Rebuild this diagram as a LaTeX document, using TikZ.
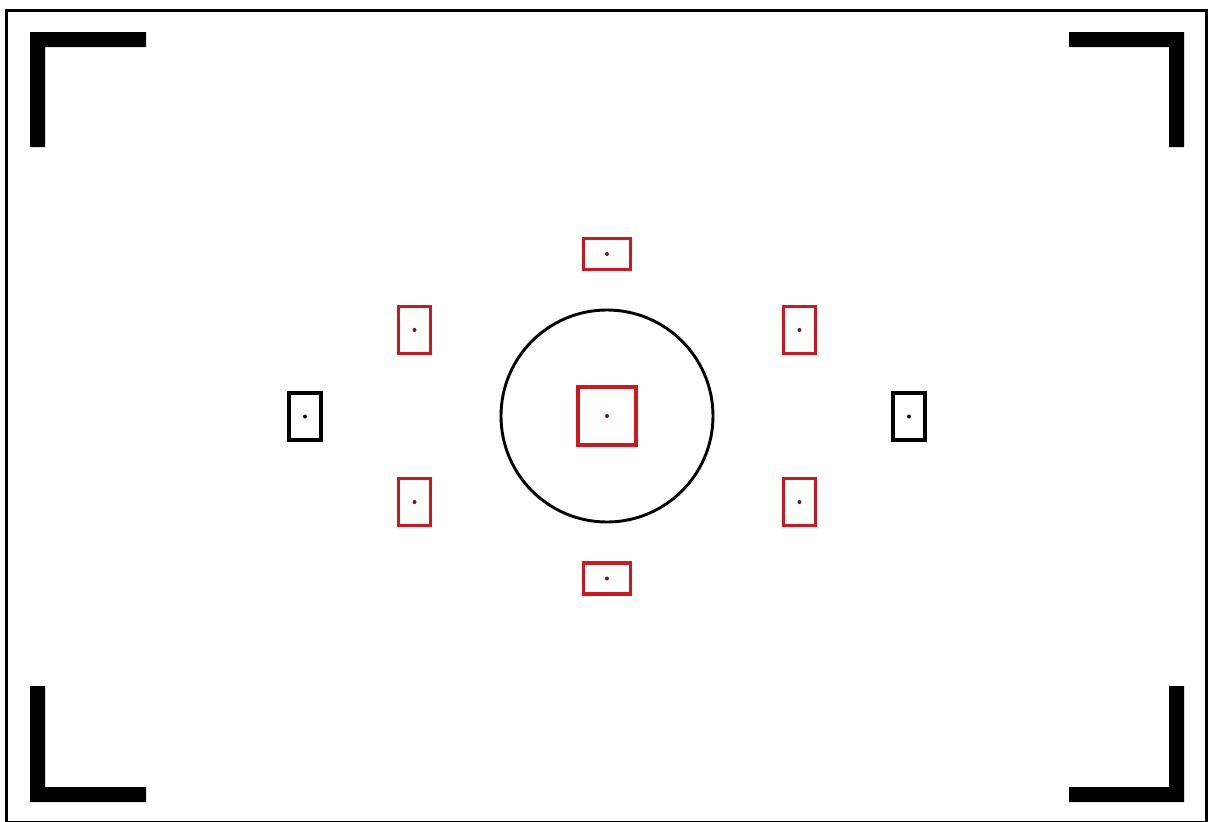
\documentclass[tikz,border=0pt]{standalone}
\definecolor{afred}{RGB}{210,22,30}
\definecolor{dotred}{RGB}{120,20,25}
\tikzset{
  afbox/.style={draw=afred, line width=3.6pt, inner sep=0pt, fill=none},
  afboxk/.style={draw=black, line width=3.2pt, inner sep=0pt},
  wide/.style={minimum width=47pt, minimum height=31pt},
  tall/.style={minimum width=32pt, minimum height=47pt},
  afdot/.style={circle, fill=dotred, inner sep=0pt, minimum size=4pt},
  afdotk/.style={circle, fill=black, inner sep=0pt, minimum size=4pt},
  bracket/.style={fill=black, draw=none},
}
\begin{document}
\begin{tikzpicture}[x=1pt,y=-1pt]
\useasboundingbox (0,0) rectangle (1211,822);
\fill[white] (0,0) rectangle (1211,822);
\node[draw, line width=3.4pt, minimum width=1200pt, minimum height=812pt, inner sep=0pt] (frame) at (606.5,816/2+8.5) {};
% corner brackets
\fill[bracket] (30,32) -- (146,32) -- (146,47) -- (45,47) -- (45,147) -- (30,147) -- cycle;
\fill[bracket] (1184,32) -- (1069,32) -- (1069,47) -- (1169,47) -- (1169,147) -- (1184,147) -- cycle;
\fill[bracket] (30,802) -- (146,802) -- (146,787) -- (45,787) -- (45,686) -- (30,686) -- cycle;
\fill[bracket] (1184,802) -- (1069,802) -- (1069,787) -- (1169,787) -- (1169,686) -- (1184,686) -- cycle;
% center circle
\node[circle, draw, line width=2.9pt, minimum size=212pt, inner sep=0pt] (circ) at (607,416) {};
% center square
\node[afbox, minimum width=58pt, minimum height=58pt] (c) at (607,416) {};
\node[afdot] (cd) at (c.center) {};
% top / bottom
\node[afbox, wide] (t) at (607,254) {};
\node[afdot] (td) at (t.center) {};
\node[afbox, wide] (b) at (607,578.5) {};
\node[afdot] (bd) at (b.center) {};
% side red
\node[afbox, tall] (ul) at (414.5,330) {};
\node[afdot] (uld) at (ul.center) {};
\node[afbox, tall] (ll) at (414.5,502) {};
\node[afdot] (lld) at (ll.center) {};
\node[afbox, tall] (ur) at (799.5,330) {};
\node[afdot] (urd) at (ur.center) {};
\node[afbox, tall] (lr) at (799.5,502) {};
\node[afdot] (lrd) at (lr.center) {};
% black outer
\node[afboxk, tall] (l) at (305,416.5) {};
\node[afdotk] (ld) at (l.center) {};
\node[afboxk, tall] (r) at (909,416.5) {};
\node[afdotk] (rd) at (r.center) {};
\end{tikzpicture}
\end{document}
